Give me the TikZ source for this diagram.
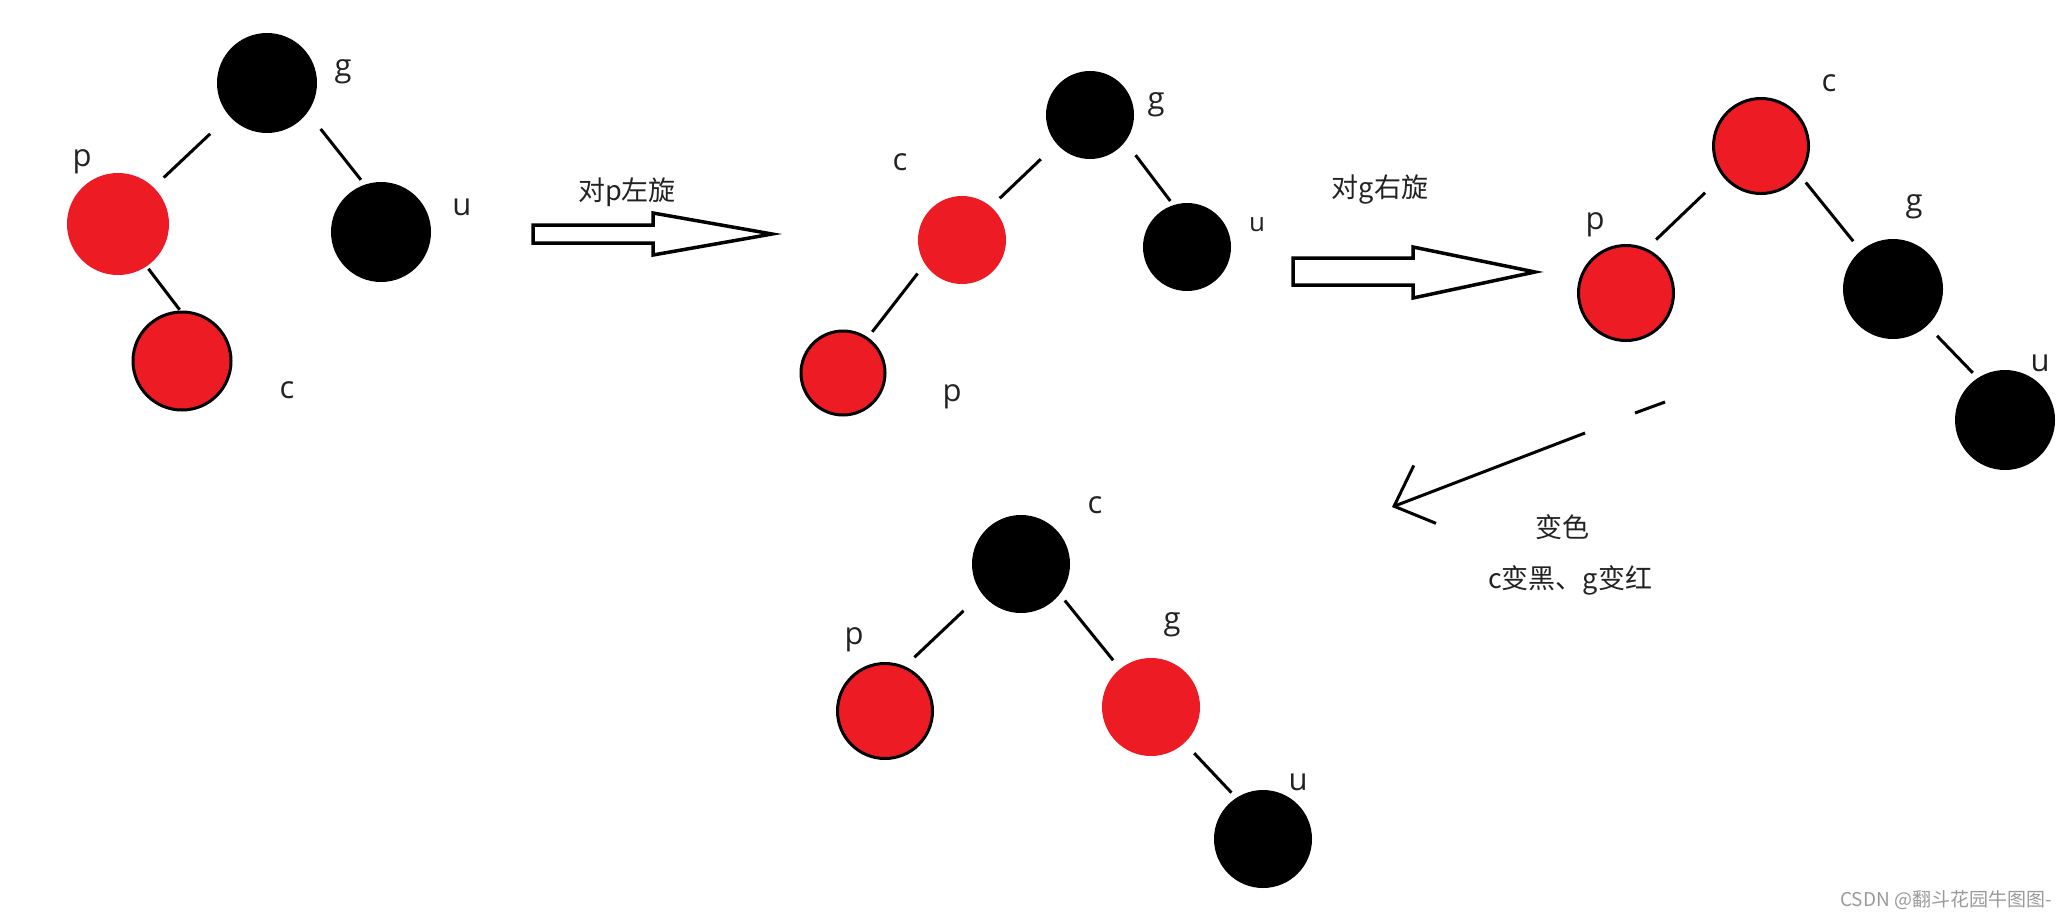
\documentclass[tikz,border=0pt]{standalone}
\usepackage{fontspec}
\setmainfont{Open Sans}
\newfontfamily\cjk{Noto Sans CJK SC}
\usetikzlibrary{arrows.meta}
\definecolor{rbred}{HTML}{ED1C24}
\definecolor{txtgray}{HTML}{222222}
\definecolor{markgray}{HTML}{9A9A9A}

\begin{document}
\begin{tikzpicture}[
  x=1pt, y=-1pt,
  rbnode/.style={
    circle,
    inner sep=0pt,
    minimum size=98pt
  },
  blacknode/.style={rbnode, fill=black},
  rednode/.style={rbnode, fill=rbred},
  redrim/.style={rednode, draw=black, line width=3pt},
  tag/.style={
    font=\fontsize{31}{31}\selectfont,
    text=txtgray,
    inner sep=0pt
  },
  note/.style={
    font=\cjk\fontsize{27}{30}\selectfont,
    text=txtgray,
    inner sep=0pt,
    align=center
  },
  link/.style={line width=3pt},
  bigarrow/.style={draw, line width=3.5pt, line join=miter, fill=white},
  turn/.style={line width=3pt, -{Straight Barb[length=33pt, width=62pt]}}
]
\useasboundingbox (0,0) rectangle (2068,918);

% tree 1
\node[blacknode, minimum size=100pt] (g1) at (267,83) {};
\node[rednode, minimum size=102pt] (p1) at (118,224) {};
\node[blacknode, minimum size=100pt] (u1) at (381,232) {};
\node[redrim] (c1) at (182,361) {};
\node[tag] (lg1) at (343,72) {g};
\node[tag] (lp1) at (82,162) {p};
\node[tag] (lu1) at (462,207) {u};
\node[tag] (lc1) at (287,390) {c};
\draw[link, shorten <=26pt, shorten >=14pt] (g1.-139) -- (p1.46);
\draw[link, shorten <=21pt, shorten >=6pt] (g1.-36) -- (u1.109);
\draw[link, shorten <=3pt, shorten >=1pt] (p1.-56) -- (c1.92);

% left rotation
\draw[bigarrow] (533,225) -- (653,225) -- (653,213) -- (772,234)
  -- (653,255) -- (653,243) -- (533,243) -- cycle;
\node[note] (rot1) at (627,192) {对p左旋};

% tree 2
\node[blacknode, minimum size=88pt] (g2) at (1090,115) {};
\node[rednode, minimum size=88pt] (c2) at (962,240) {};
\node[blacknode, minimum size=88pt] (u2) at (1187,247) {};
\node[redrim, minimum size=84pt] (p2) at (843,373) {};
\node[tag] (lg2) at (1156,105) {g};
\node[tag] (lc2) at (900,162) {c};
\node[tag, font=\fontsize{26}{26}\selectfont] (lu2) at (1257,225) {u};
\node[tag] (lp2) at (952,397) {p};
\draw[link, shorten <=22pt, shorten >=12pt] (g2.-139) -- (c2.49);
\draw[link, shorten <=17pt, shorten >=5pt] (g2.-37) -- (u2.108);
\draw[link, shorten <=12pt, shorten >=7pt] (c2.-147) -- (p2.55);

% right rotation
\draw[bigarrow] (1293,258) -- (1413,258) -- (1413,247) -- (1535,272)
  -- (1413,298) -- (1413,285) -- (1293,285) -- cycle;
\node[note] (rot2) at (1380,190) {对g右旋};

% tree 3
\node[redrim, minimum size=95pt] (c3) at (1761,146) {};
\node[redrim, minimum size=95pt] (p3) at (1626,293) {};
\node[blacknode, minimum size=100pt] (g3) at (1893,289) {};
\node[blacknode, minimum size=100pt] (u3) at (2005,420) {};
\node[tag] (lc3) at (1829,83) {c};
\node[tag] (lp3) at (1595,225) {p};
\node[tag] (lg3) at (1914,207) {g};
\node[tag] (lu3) at (2040,363) {u};
\draw[link, shorten <=24pt, shorten >=13pt] (c3.-142) -- (p3.65);
\draw[link, shorten <=9pt, shorten >=12pt] (c3.-37) -- (g3.130);
\draw[link, shorten <=14pt, shorten >=7pt] (g3.-47) -- (u3.123);

% recolouring
\coordinate (cut1) at (1665,402);
\coordinate (cut2) at (1635,413);
\coordinate (cut3) at (1585,433);
\coordinate (tip) at (1392,507);
\draw[link] (cut1) -- (cut2);
\draw[turn] (cut3) -- (tip);
\node[note] (recol) at (1562,527) {变色};
\node[note] (recol2) at (1570,580) {c变黑、g变红};

% tree 4
\node[blacknode] (c4) at (1021,564) {};
\node[redrim, minimum size=95pt] (p4) at (885,711) {};
\node[rednode] (g4) at (1151,707) {};
\node[blacknode] (u4) at (1263,839) {};
\node[tag] (lc4) at (1095,505) {c};
\node[tag] (lp4) at (854,640) {p};
\node[tag] (lg4) at (1172,625) {g};
\node[tag] (lu4) at (1298,782) {u};
\draw[link, shorten <=25pt, shorten >=13pt] (c4.-143) -- (p4.66);
\draw[link, shorten <=8pt, shorten >=11pt] (c4.-38) -- (g4.129);
\draw[link, shorten <=14pt, shorten >=7pt] (g4.-47) -- (u4.123);

\node[font=\cjk\fontsize{19}{19}\selectfont, text=markgray, anchor=east, inner sep=0pt]
  (mark) at (2052,900) {CSDN @翻斗花园牛图图-};

\end{tikzpicture}
\end{document}
